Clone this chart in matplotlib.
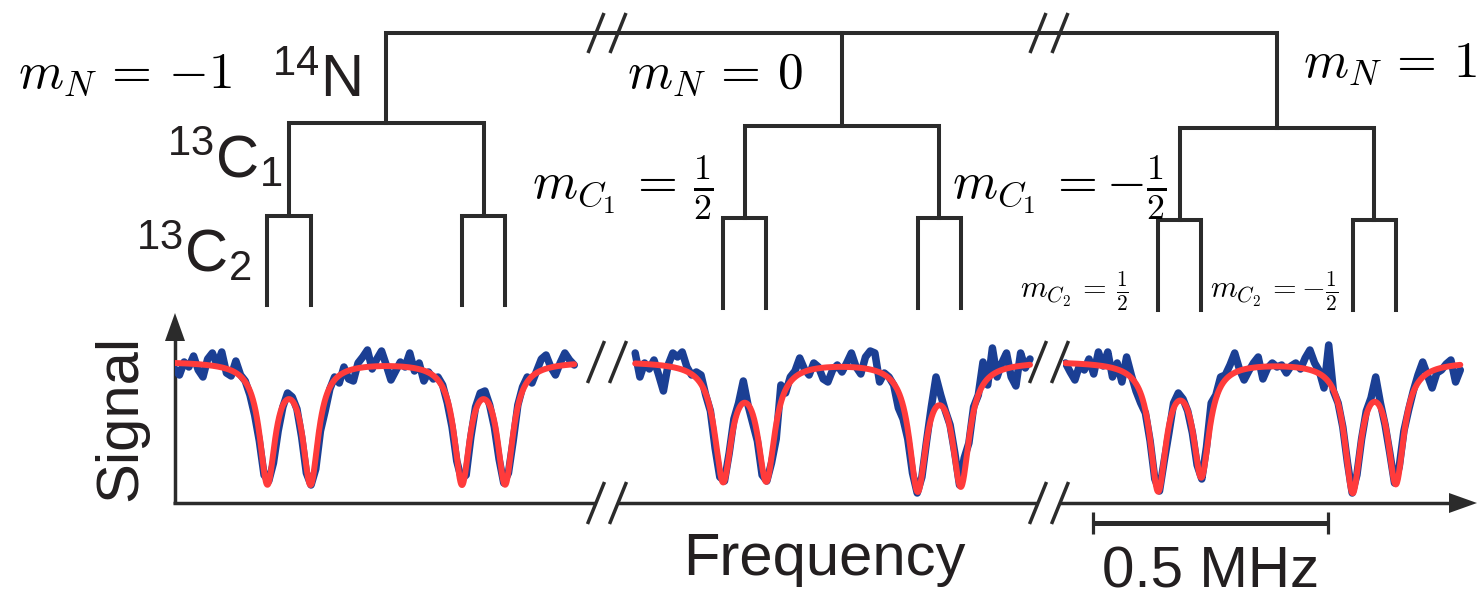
import numpy as np
import matplotlib
matplotlib.use("Agg")
import matplotlib.pyplot as plt
from matplotlib.patches import Polygon

# ---------------- data ----------------
segment_center_MHz = [-2.16, 0.0, 2.16]          # 14N hyperfine manifolds m_N = -1, 0, +1
dip_freq_seg1 = [-2.413, -2.321, -1.999, -1.907]
dip_freq_seg2 = [-0.253, -0.161, 0.161, 0.253]
dip_freq_seg3 = [1.907, 1.999, 2.321, 2.413]
fit_depth_seg1 = [118, 118, 118, 118]
fit_depth_seg2 = [115, 114, 124, 119]
fit_depth_seg3 = [125, 110, 126, 117]
fit_hwhm_MHz = [0.0200, 0.0215, 0.0205]
fit_baseline = 142.0

scan_start_MHz = [-2.61, -0.44, 1.71]
scan_step_MHz = 0.01
signal_seg1 = [134, 128, 141, 136, 147, 133, 126, 144, 150, 138,
               151, 130, 127, 142, 128, 122, 108, 88, 62, 28,
               22, 40, 72, 96, 110, 106, 94, 66, 30, 18,
               34, 72, 92, 114, 126, 120, 136, 124, 122, 140,
               146, 153, 134, 144, 152, 138, 123, 132, 141, 136,
               150, 132, 140, 122, 131, 124, 126, 118, 100, 76,
               42, 24, 28, 66, 96, 110, 112, 98, 76, 44,
               20, 30, 62, 98, 116, 126, 120, 132, 144, 148,
               136, 128, 140, 150, 143, 138]
signal_seg2 = [150, 126, 140, 134, 143, 128, 112, 138, 150, 146,
               151, 136, 128, 131, 128, 108, 92, 55, 26, 22,
               50, 84, 100, 122, 98, 80, 62, 28, 22, 40,
               64, 118, 110, 126, 132, 145, 134, 128, 140, 136,
               124, 121, 133, 138, 131, 140, 150, 136, 129, 146,
               152, 150, 121, 130, 126, 118, 95, 84, 64, 30,
               10, 26, 62, 96, 126, 108, 92, 78, 50, 18,
               45, 60, 96, 108, 141, 118, 155, 126, 140, 150,
               126, 117, 150, 135, 144]
signal_seg3 = [140, 131, 123, 138, 133, 144, 129, 151, 137, 151,
               126, 140, 121, 146, 128, 112, 100, 90, 62, 24,
               12, 42, 70, 100, 110, 104, 92, 70, 38, 24,
               56, 100, 108, 126, 128, 138, 150, 134, 123, 132,
               140, 146, 124, 135, 140, 136, 138, 130, 137, 140,
               134, 145, 153, 140, 132, 115, 158, 112, 100, 76,
               40, 10, 28, 64, 92, 105, 126, 100, 78, 50,
               20, 36, 72, 93, 112, 128, 141, 128, 115, 130,
               133, 139, 143, 121, 133]

dip_freqs = [dip_freq_seg1, dip_freq_seg2, dip_freq_seg3]
fit_depths = [fit_depth_seg1, fit_depth_seg2, fit_depth_seg3]
signals = [signal_seg1, signal_seg2, signal_seg3]

mN_labels = [r"$m_N\,=\,{-1}$", r"$m_N\,=\,0$", r"$m_N\,=\,1$"]

# ---------------- layout ----------------
W, H = 1477, 599
PX_PER_MHZ = 470.0                       # 0.5 MHz scale bar = 235 px
seg_px_center = [386.25, 842.0, 1277.0]
seg_px_span = [(175, 590), (625, 1035), (1063, 1470)]
AX_BOTTOM, AX_TOP = 503, 313
LINE = "#2b2b2b"
BLUE = "#1b3f94"
RED = "#ff3b3b"

plt.rcParams["font.family"] = ["Liberation Sans", "DejaVu Sans"]
plt.rcParams["mathtext.fontset"] = "custom"
plt.rcParams["mathtext.rm"] = "Liberation Sans"
plt.rcParams["mathtext.it"] = "Liberation Sans:italic"
plt.rcParams["mathtext.bf"] = "Liberation Sans:bold"

fig = plt.figure(figsize=(W / 100, H / 100), dpi=100)

# decoration layer in pixel coordinates
deco = fig.add_axes([0, 0, 1, 1])
deco.set_xlim(0, W)
deco.set_ylim(H, 0)
deco.axis("off")


def px(f, k):
    return seg_px_center[k] + (f - segment_center_MHz[k]) * PX_PER_MHZ


# ---------------- spectra ----------------
for k in range(3):
    x0, x1 = seg_px_span[k]
    ax = fig.add_axes([x0 / W, (H - AX_BOTTOM) / H, (x1 - x0) / W, (AX_BOTTOM - AX_TOP) / H])
    c, pc = segment_center_MHz[k], seg_px_center[k]
    ax.set_xlim(c + (x0 - pc) / PX_PER_MHZ, c + (x1 - pc) / PX_PER_MHZ)
    ax.set_ylim(0, AX_BOTTOM - AX_TOP)
    ax.axis("off")
    ax.patch.set_alpha(0)
    sig = np.asarray(signals[k], dtype=float)
    f = scan_start_MHz[k] + scan_step_MHz * np.arange(len(sig))
    ax.plot(f, sig, color=BLUE, lw=5.4, solid_joinstyle="round", solid_capstyle="round", zorder=2)
    ff = np.linspace(f[0], f[-1], 900)
    g = fit_hwhm_MHz[k]
    model = np.full_like(ff, fit_baseline)
    for fc, a in zip(dip_freqs[k], fit_depths[k]):
        model -= a * g ** 2 / ((ff - fc) ** 2 + g ** 2)
    ax.plot(ff, model, color=RED, lw=4.3, solid_capstyle="round", zorder=3)

# ---------------- energy-level tree ----------------
tree_kw = dict(color=LINE, lw=2.9, solid_joinstyle="miter", solid_capstyle="projecting")
TOP_Y = 33
LVL2_Y = [123, 126, 128]
LVL3_Y = [216, 218, 220]
BOT_Y = [305, 308, 310]
top_nodes = []
for k in range(3):
    xs = [px(f, k) for f in dip_freqs[k]]
    na, nb = (xs[0] + xs[1]) / 2, (xs[2] + xs[3]) / 2
    b, l3, l2 = BOT_Y[k], LVL3_Y[k], LVL2_Y[k]
    deco.plot([xs[0], xs[0], xs[1], xs[1]], [b, l3, l3, b], **tree_kw)
    deco.plot([xs[2], xs[2], xs[3], xs[3]], [b, l3, l3, b], **tree_kw)
    deco.plot([na, na, nb, nb], [l3, l2, l2, l3], **tree_kw)
    top_nodes.append((na + nb) / 2)
deco.plot([top_nodes[0], top_nodes[0], top_nodes[2], top_nodes[2]],
          [LVL2_Y[0], TOP_Y, TOP_Y, LVL2_Y[2]], **tree_kw)
deco.plot([top_nodes[1], top_nodes[1]], [TOP_Y, LVL2_Y[1]], **tree_kw)

# ---------------- axes, breaks, arrows ----------------
ax_kw = dict(color=LINE, lw=2.5, solid_capstyle="butt")
BREAKS = [(596, 618), (1038, 1060)]


def slash(x, yc, h=40, w=16, lw=2.5):
    deco.plot([x - w / 2, x + w / 2], [yc + h / 2, yc - h / 2], color=LINE, lw=lw,
              solid_capstyle="butt")


deco.plot([175, 175], [AX_BOTTOM + 1, AX_TOP + 20], **ax_kw)
deco.plot([173, BREAKS[0][0]], [AX_BOTTOM, AX_BOTTOM], **ax_kw)
deco.plot([BREAKS[0][1], BREAKS[1][0]], [AX_BOTTOM, AX_BOTTOM], **ax_kw)
deco.plot([BREAKS[1][1], 1455], [AX_BOTTOM, AX_BOTTOM], **ax_kw)
deco.add_patch(Polygon([(175, AX_TOP), (165, AX_TOP + 28), (185, AX_TOP + 28)],
                       closed=True, color=LINE, lw=0))
deco.add_patch(Polygon([(1477, AX_BOTTOM), (1449, AX_BOTTOM - 10), (1449, AX_BOTTOM + 10)],
                       closed=True, color=LINE, lw=0))
for pair in BREAKS:
    for x in pair:
        slash(x, TOP_Y, 40, 16)
        slash(x, 362, 42, 17)
        slash(x, AX_BOTTOM, 42, 17)

# scale bar 0.5 MHz
sb_x0 = 1093
sb_x1 = sb_x0 + 0.5 * PX_PER_MHZ
deco.plot([sb_x0, sb_x1], [523, 523], color=LINE, lw=3.6, solid_capstyle="butt")
deco.plot([sb_x0, sb_x0], [512, 534], color=LINE, lw=2.3, solid_capstyle="butt")
deco.plot([sb_x1, sb_x1], [512, 534], color=LINE, lw=2.3, solid_capstyle="butt")

# ---------------- text ----------------
TXT = "#231f20"
SANS = 43
deco.text(824, 575, "Frequency", fontsize=SANS, color=TXT, ha="center", va="baseline")
deco.text((sb_x0 + sb_x1) / 2, 587, "0.5 MHz", fontsize=42, color=TXT, ha="center", va="baseline")
deco.text(121, 418, "Signal", fontsize=SANS, color=TXT, rotation=90, ha="center", va="center")
deco.text(272, 98, r"${}^{14}$N", fontsize=SANS, color=TXT, ha="left", va="baseline")
deco.text(167, 178, r"${}^{13}$C${}_{1}$", fontsize=SANS, color=TXT, ha="left", va="baseline")
deco.text(136, 272, r"${}^{13}$C${}_{2}$", fontsize=SANS, color=TXT, ha="left", va="baseline")

MATH = 37
deco.text(18, 88, mN_labels[0], fontsize=MATH, color="black", ha="left", va="baseline",
          math_fontfamily="cm")
deco.text(627, 88, mN_labels[1], fontsize=MATH, color="black", ha="left", va="baseline",
          math_fontfamily="cm")
deco.text(1303, 77, mN_labels[2], fontsize=MATH, color="black", ha="left", va="baseline",
          math_fontfamily="cm")
deco.text(532, 199, r"$m_{C_1}\,=\,\frac{1}{2}$", fontsize=MATH, color="black", ha="left",
          va="baseline", math_fontfamily="cm")
deco.text(952, 199, r"$m_{C_1}\,=-\frac{1}{2}$", fontsize=MATH, color="black", ha="left",
          va="baseline", math_fontfamily="cm")
deco.text(1020, 298, r"$m_{C_2}\,=\,\frac{1}{2}$", fontsize=22, color="black", ha="left",
          va="baseline", math_fontfamily="cm")
deco.text(1210, 298, r"$m_{C_2}\,=-\frac{1}{2}$", fontsize=22, color="black", ha="left",
          va="baseline", math_fontfamily="cm")

fig.savefig("out.png", dpi=100)
